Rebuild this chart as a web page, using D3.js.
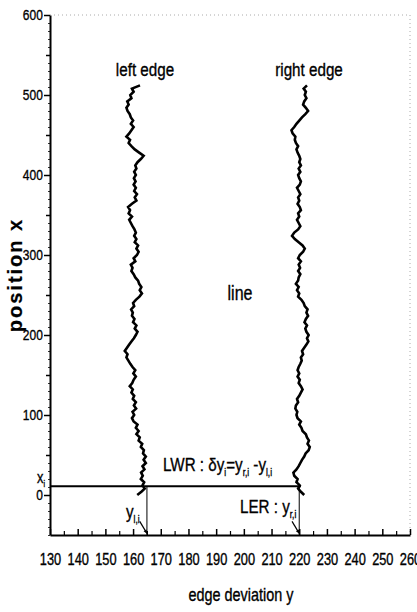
<!DOCTYPE html>
<html>
<head>
<meta charset="utf-8">
<script src="https://cdn.jsdelivr.net/npm/d3@7/dist/d3.min.js"></script>
<style>
  html, body { margin: 0; padding: 0; background: #fff; }
  svg { display: block; }
  text { font-family: "Liberation Sans", Arial, sans-serif; fill: #000; stroke: #000; stroke-width: 0.35px; }
</style>
</head>
<body>
<svg id="chart" width="417" height="612"></svg>
<script>
// Position along the line (x), sampled every 4 units
const positions = d3.range(0, 513, 4);

// Edge deviation y of the left edge at each position
const leftEdge = [
  161.5, 163.0, 164.2, 163.4, 164.0, 162.8, 163.5, 162.9, 164.1, 163.4,
  164.6, 163.8, 164.6, 163.6, 163.9, 162.8, 163.3, 162.0, 162.4, 161.2,
  162.0, 161.0, 161.6, 160.2, 159.6, 160.4, 159.8, 161.1, 160.3, 161.0,
  159.9, 160.4, 159.4, 159.9, 158.8, 159.7, 160.2, 161.0, 160.1, 160.8,
  159.8, 159.0, 158.3, 157.6, 158.0, 157.0, 157.8, 158.6, 159.4, 160.3,
  161.0, 161.6, 160.6, 161.2, 160.0, 160.5, 159.6, 159.9, 159.3, 160.4,
  160.0, 161.0, 162.3, 163.2, 162.4, 163.0, 162.2, 161.8, 160.8, 160.2,
  159.4, 159.8, 159.2, 160.8, 160.2, 161.4, 162.0, 161.2, 161.8, 160.6,
  161.2, 160.4, 161.0, 160.5, 159.8, 159.2, 158.6, 159.6, 158.4, 158.9,
  158.2, 159.6, 161.2, 160.6, 161.4, 160.4, 161.0, 160.2, 160.9, 160.3,
  161.0, 160.4, 161.2, 160.8, 161.6, 162.8, 163.8, 162.2, 160.6, 159.4,
  158.4, 158.9, 157.6, 158.6, 159.4, 160.2, 159.2, 160.0, 159.2, 158.8,
  158.0, 157.6, 158.4, 157.9, 159.4, 159.0, 160.2, 159.6, 162.5
];

// Edge deviation y of the right edge at each position
const rightEdge = [
  221.8, 220.6, 219.6, 220.2, 219.0, 219.4, 218.2, 217.9, 219.0, 219.8,
  220.4, 221.0, 221.8, 222.3, 223.4, 223.8, 223.0, 223.5, 222.8, 222.4,
  221.2, 220.8, 220.0, 220.6, 219.4, 219.0, 219.3, 218.6, 218.8, 219.6,
  219.2, 220.0, 220.6, 221.2, 220.6, 219.8, 220.2, 219.4, 220.0, 219.4,
  219.8, 220.4, 220.9, 220.6, 221.4, 221.0, 221.8, 222.6, 223.3, 222.8,
  223.4, 222.6, 222.2, 222.8, 221.9, 222.4, 223.2, 222.6, 223.0, 222.0,
  221.6, 220.8, 219.6, 220.0, 219.2, 219.8, 218.8, 219.6, 219.8, 220.4,
  219.6, 220.3, 219.8, 220.6, 219.6, 220.2, 221.4, 222.0, 221.2, 219.8,
  218.4, 217.4, 218.2, 219.6, 220.4, 219.8, 219.2, 220.0, 219.6, 220.6,
  220.2, 219.4, 220.0, 219.6, 220.4, 219.8, 219.2, 220.2, 220.6, 220.0,
  219.6, 220.4, 219.8, 220.6, 220.0, 220.4, 220.0, 219.4, 219.0, 219.6,
  218.8, 218.4, 218.6, 217.6, 217.2, 218.2, 219.0, 220.0, 221.0, 222.2,
  223.2, 222.4, 221.4, 221.8, 222.6, 222.0, 222.4, 221.6, 222.8
];

// Axis ticks
const xTickValues = d3.range(130, 261, 10);
const xMinorTicks = d3.range(135, 260, 10);
const yTickValues = d3.range(0, 601, 100);
const yMidTicks = d3.range(50, 600, 100);
const yMinorTicks = d3.range(-50, 601, 10);

// Sample row i used for the annotation
const rowPosition = 11;
const leftAtRow = 165;
const rightAtRow = 220;

// Horizontal squeeze giving the condensed lettering
const SQUEEZE = 0.8;

const svg = d3.select("#chart");

const x = d3.scaleLinear().domain([130, 260]).range([50, 410]);
const y = d3.scaleLinear().domain([-50, 600]).range([535, 15]);

// Dotted frame on top and right
svg.append("line")
  .attr("x1", x(130)).attr("x2", x(260)).attr("y1", y(600)).attr("y2", y(600))
  .attr("stroke", "#aaa").attr("stroke-width", 1).attr("stroke-dasharray", "1,3");
svg.append("line")
  .attr("x1", x(260)).attr("x2", x(260)).attr("y1", y(600)).attr("y2", y(-50))
  .attr("stroke", "#aaa").attr("stroke-width", 1).attr("stroke-dasharray", "1,3");

// X axis: ticks pointing up into the plot
const gx = svg.append("g")
  .attr("transform", `translate(0,${y(-50)})`)
  .call(d3.axisBottom(x).tickValues(xTickValues).tickSizeInner(-6).tickSizeOuter(0).tickPadding(19));
gx.selectAll("text").attr("font-size", 16).attr("font-family", null)
  .attr("transform", `scale(${SQUEEZE},1)`);
gx.select(".domain").attr("stroke-width", 2);
gx.selectAll(".tick line").attr("stroke-width", 1.5);
svg.append("g")
  .attr("transform", `translate(0,${y(-50)})`)
  .call(d3.axisBottom(x).tickValues(xMinorTicks).tickSizeInner(-4).tickSizeOuter(0).tickFormat(""))
  .call(g => g.select(".domain").remove())
  .call(g => g.selectAll(".tick line").attr("stroke-width", 1.2));

// Y axis
const gy = svg.append("g")
  .attr("transform", `translate(${x(130)},0)`)
  .call(d3.axisLeft(y).tickValues(yTickValues).tickSizeInner(6).tickSizeOuter(0).tickPadding(3));
gy.selectAll("text").attr("font-size", 15).attr("font-family", null)
  .attr("transform", `scale(${SQUEEZE},1)`);
gy.select(".domain").attr("stroke-width", 2);
gy.selectAll(".tick line").attr("stroke-width", 1.5);
svg.append("g")
  .attr("transform", `translate(${x(130)},0)`)
  .call(d3.axisLeft(y).tickValues(yMidTicks).tickSizeInner(4).tickSizeOuter(0).tickFormat(""))
  .call(g => g.select(".domain").remove())
  .call(g => g.selectAll(".tick line").attr("stroke-width", 1.5));
svg.append("g")
  .attr("transform", `translate(${x(130)},0)`)
  .call(d3.axisLeft(y).tickValues(yMinorTicks).tickSizeInner(2).tickSizeOuter(0).tickFormat(""))
  .call(g => g.select(".domain").remove())
  .call(g => g.selectAll(".tick line").attr("stroke-width", 0.8));

// Edges
const edgeLine = d3.line()
  .x(d => x(d[1]))
  .y(d => y(d[0]));

[leftEdge, rightEdge].forEach(values => {
  svg.append("path")
    .datum(positions.map((p, i) => [p, values[i]]))
    .attr("d", edgeLine)
    .attr("fill", "none")
    .attr("stroke", "#000")
    .attr("stroke-width", 2.6)
    .attr("stroke-linejoin", "miter");
});

// Row i marker and the two edge positions below it
svg.append("line")
  .attr("x1", x(130)).attr("x2", x(rightAtRow + 0.6))
  .attr("y1", y(rowPosition)).attr("y2", y(rowPosition))
  .attr("stroke", "#000").attr("stroke-width", 2);
[leftAtRow, rightAtRow].forEach(v => {
  svg.append("line")
    .attr("x1", x(v)).attr("x2", x(v))
    .attr("y1", y(rowPosition)).attr("y2", y(-50))
    .attr("stroke", "#000").attr("stroke-width", 1);
});

// Small pointers toward the bottom of each vertical line
function pointer(v) {
  const x0 = x(v - 2.6), y0 = y(-33), x1 = x(v), y1 = y(-48);
  svg.append("line").attr("x1", x0).attr("y1", y0).attr("x2", x1).attr("y2", y1)
    .attr("stroke", "#000").attr("stroke-width", 1.2);
  const a = Math.atan2(y1 - y0, x1 - x0);
  const L = 4, w = 0.45;
  svg.append("path")
    .attr("d", `M${x1},${y1}L${x1 - L * Math.cos(a - w)},${y1 - L * Math.sin(a - w)}L${x1 - L * Math.cos(a + w)},${y1 - L * Math.sin(a + w)}Z`)
    .attr("fill", "#000");
}
pointer(leftAtRow);
pointer(rightAtRow);

// Condensed labels; {sub: "..."} parts are set as subscripts
function label(tx, ty, parts, size, anchor) {
  const t = svg.append("text")
    .attr("transform", `translate(${tx},${ty}) scale(${SQUEEZE},1)`)
    .attr("font-size", size)
    .attr("text-anchor", anchor || "start");
  let lowered = false;
  parts.forEach(p => {
    if (typeof p === "string") {
      const s = t.append("tspan").text(p);
      if (lowered) { s.attr("dy", -size * 0.28); lowered = false; }
    } else {
      t.append("tspan").attr("font-size", size * 0.55).attr("dy", size * 0.28).text(p.sub);
      lowered = true;
    }
  });
  return t;
}

label(145, 76, ["left edge"], 19, "middle");
label(309, 76, ["right edge"], 19, "middle");
label(240, 300, ["line"], 20, "middle");
label(163, 471, ["LWR : \u03b4y", {sub: "i"}, "=y", {sub: "r,i"}, " -y", {sub: "l,i"}], 19);
label(240, 513, ["LER : y", {sub: "r,i"}], 19);
label(126, 518, ["y", {sub: "l,i"}], 19);
label(37, 483, ["x", {sub: "i"}], 16);

svg.append("text")
  .attr("transform", `translate(22,${y(275)}) rotate(-90)`)
  .attr("text-anchor", "middle")
  .attr("font-weight", "bold")
  .attr("font-size", 20)
  .attr("letter-spacing", 2)
  .style("stroke-width", "0.2px")
  .text("position x");

label(241, 601, ["edge deviation y"], 18, "middle");
</script>
</body>
</html>
